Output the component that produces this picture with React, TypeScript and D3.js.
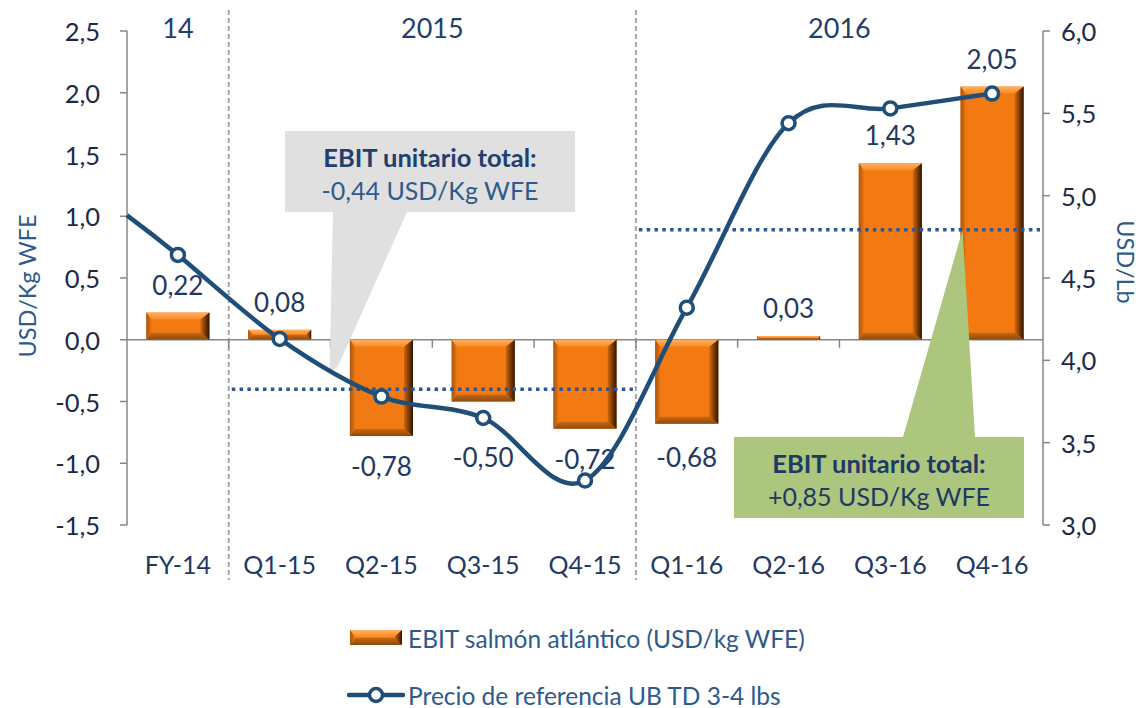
import React from "react";
import * as d3 from "d3";

const categories = ["FY-14", "Q1-15", "Q2-15", "Q3-15", "Q4-15", "Q1-16", "Q2-16", "Q3-16", "Q4-16"];
const ebitValues = [0.22, 0.08, -0.78, -0.5, -0.72, -0.68, 0.03, 1.43, 2.05];
const priceValues = [4.64, 4.13, 3.78, 3.65, 3.27, 4.32, 5.44, 5.53, 5.62];
const priceLeadIn = 4.88; // previous period, line enters from the left axis
const leftTicks = [-1.5, -1.0, -0.5, 0.0, 0.5, 1.0, 1.5, 2.0, 2.5];
const rightTicks = [3.0, 3.5, 4.0, 4.5, 5.0, 5.5, 6.0];
const groupLabels = ["14", "2015", "2016"];
const groupFrom = ["FY-14", "Q1-15", "Q1-16"];
const groupTo = ["FY-14", "Q4-15", "Q4-16"];
const avgLevels = [-0.4, 0.89];
const avgFrom = ["Q1-15", "Q1-16"];
const avgTo = ["Q4-15", "Q4-16"];
const calloutTitle = "EBIT unitario total:";
const calloutValues = ["-0,44 USD/Kg WFE", "+0,85 USD/Kg WFE"];
const legendBar = "EBIT salmón atlántico (USD/kg WFE)";
const legendLine = "Precio de referencia UB TD 3-4 lbs";
const leftTitle = "USD/Kg WFE";
const rightTitle = "USD/Lb";

const W = 1148, H = 708;
const PL = 127, PR = 1043, PT = 31, PB = 525;
const FONT = "Lato, 'Open Sans', sans-serif";
const NAVY = "#1F3864";
const LINE = "#1F4E79";
const MID = "#2E5A8C";
const comma = (f: string) => (v: number) => d3.format(f)(v).replace(".", ",").replace("−", "-");

function bevel(x0: number, x1: number, y0: number, y1: number) {
  const h = y1 - y0;
  const bt = Math.min(7, h / 2), bb = Math.min(7, h / 2);
  const bl = Math.min(5, h / 2), br = Math.min(9, h / 2);
  const p = (pts: number[][]) => pts.map((d) => d.join(",")).join(" ");
  return {
    top: p([[x0, y0], [x1, y0], [x1 - br, y0 + bt], [x0 + bl, y0 + bt]]),
    bottom: p([[x0, y1], [x1, y1], [x1 - br, y1 - bb], [x0 + bl, y1 - bb]]),
    left: p([[x0, y0], [x0 + bl, y0 + bt], [x0 + bl, y1 - bb], [x0, y1]]),
    right: p([[x1, y0], [x1 - br, y0 + bt], [x1 - br, y1 - bb], [x1, y1]]),
  };
}

function BevelBar({ x0, x1, y0, y1 }: { x0: number; x1: number; y0: number; y1: number }) {
  const b = bevel(x0, x1, y0, y1);
  return (
    <g>
      <rect x={x0} y={y0} width={x1 - x0} height={y1 - y0} fill="#F37A12" />
      <polygon points={b.top} fill="url(#gTop)" />
      <polygon points={b.bottom} fill="url(#gBottom)" />
      <polygon points={b.left} fill="url(#gLeft)" />
      <polygon points={b.right} fill="url(#gRight)" />
    </g>
  );
}

export default function App() {
  const x = d3.scaleBand<string>().domain(categories).range([PL, PR]).paddingInner(0.38).paddingOuter(0.19);
  const step = x.step();
  const cx = (c: string) => (x(c) as number) + x.bandwidth() / 2;
  const yL = d3.scaleLinear().domain([-1.5, 2.5]).range([PB, PT]);
  const yR = d3.scaleLinear().domain([3, 6]).range([PB, PT]);
  const y0 = yL(0);
  const fmt2 = comma(".2f");
  const fmt1 = comma(".1f");

  const pts: [number, number][] = [[PL, yR(priceLeadIn)], ...categories.map((c, i) => [cx(c), yR(priceValues[i])] as [number, number])];
  const linePath = d3.line().curve(d3.curveCatmullRom.alpha(0))(pts) as string;

  const boundaries = d3.range(1, categories.length).map((i) => PL + i * step);
  const sepX = [PL + step, PL + 5 * step];

  // callouts
  const gBox = { x: 285, y: 131, w: 290, h: 81 };
  const gTip: [number, number] = [PL + 2 * step - 1, yL(-0.27)];
  const grBox = { x: 734, y: 437, w: 290, h: 81 };
  const grTip: [number, number] = [(x("Q4-16") as number) + 2, yL(avgLevels[1])];

  return (
    <svg width={W} height={H} style={{ position: "absolute", left: 0, top: 0, background: "#fff" }} fontFamily={FONT}>
      <defs>
        <linearGradient id="gTop" x1="0" y1="0" x2="0" y2="1">
          <stop offset="0" stopColor="#FFB060" />
          <stop offset="1" stopColor="#F98A25" />
        </linearGradient>
        <linearGradient id="gBottom" x1="0" y1="0" x2="0" y2="1">
          <stop offset="0" stopColor="#C8680E" />
          <stop offset="1" stopColor="#8C4A10" />
        </linearGradient>
        <linearGradient id="gLeft" x1="0" y1="0" x2="1" y2="0">
          <stop offset="0" stopColor="#A8560E" />
          <stop offset="1" stopColor="#E67410" />
        </linearGradient>
        <linearGradient id="gRight" x1="0" y1="0" x2="1" y2="0">
          <stop offset="0" stopColor="#D4680C" />
          <stop offset="1" stopColor="#2E1400" />
        </linearGradient>
      </defs>

      {/* year separators */}
      {sepX.map((sx, i) => (
        <line key={i} x1={sx} x2={sx} y1={10} y2={580} stroke="#A6A6A6" strokeWidth={2} strokeDasharray="5 3" />
      ))}

      {/* group labels */}
      {groupLabels.map((g, i) => (
        <text key={g} x={(cx(groupFrom[i]) + cx(groupTo[i])) / 2} y={27} textAnchor="middle" dominantBaseline="central" fontSize={27} fill="#1F3F6E">
          {g}
        </text>
      ))}

      {/* left axis */}
      <line x1={PL} x2={PL} y1={PT} y2={PB} stroke="#868686" strokeWidth={1.5} />
      {leftTicks.map((t) => (
        <g key={t}>
          <line x1={PL - 7} x2={PL} y1={yL(t)} y2={yL(t)} stroke="#868686" strokeWidth={1.5} />
          <text x={100} y={yL(t)} textAnchor="end" dominantBaseline="central" fontSize={25.5} fill="#1B2A47">
            {fmt1(t)}
          </text>
        </g>
      ))}
      {/* right axis */}
      <line x1={PR} x2={PR} y1={PT} y2={PB} stroke="#868686" strokeWidth={1.5} />
      {rightTicks.map((t) => (
        <g key={t}>
          <line x1={PR} x2={PR + 7} y1={yR(t)} y2={yR(t)} stroke="#868686" strokeWidth={1.5} />
          <text x={1061} y={yR(t)} textAnchor="start" dominantBaseline="central" fontSize={25.5} fill="#1B2A47">
            {fmt1(t)}
          </text>
        </g>
      ))}
      {/* zero line and category ticks */}
      <line x1={PL} x2={PR} y1={y0} y2={y0} stroke="#868686" strokeWidth={1.5} />
      {boundaries.map((bx, i) => (
        <line key={i} x1={bx} x2={bx} y1={y0} y2={y0 + 8} stroke="#868686" strokeWidth={1.5} />
      ))}

      {/* axis titles */}
      <text transform={`translate(27,${(PT + PB) / 2 + 8}) rotate(-90)`} textAnchor="middle" dominantBaseline="central" fontSize={23.5} fill={MID}>
        {leftTitle}
      </text>
      <text transform={`translate(1126,${(PT + PB) / 2 - 16}) rotate(90)`} textAnchor="middle" dominantBaseline="central" fontSize={23.5} fill={MID}>
        {rightTitle}
      </text>

      {/* category labels */}
      {categories.map((c) => (
        <text key={c} x={cx(c)} y={564} textAnchor="middle" dominantBaseline="central" fontSize={25} fill={NAVY}>
          {c}
        </text>
      ))}

      {/* bars */}
      {categories.map((c, i) => {
        const v = ebitValues[i];
        const xa = x(c) as number;
        return <BevelBar key={c} x0={xa} x1={xa + x.bandwidth()} y0={Math.min(yL(v), y0)} y1={Math.max(yL(v), y0)} />;
      })}

      {/* callouts */}
      <polygon points={`${gBox.x + 48},${gBox.y + gBox.h} ${gBox.x + 122},${gBox.y + gBox.h} ${gTip[0] + 8},${gTip[1] - 6} ${gTip[0]},${gTip[1]}`} fill="#E0E0E0" />
      <rect x={gBox.x} y={gBox.y} width={gBox.w} height={gBox.h} fill="#E0E0E0" />
      <text x={gBox.x + gBox.w / 2} y={gBox.y + 26} textAnchor="middle" dominantBaseline="central" fontSize={25.5} fontWeight={700} fill="#1F3F6E">
        {calloutTitle}
      </text>
      <text x={gBox.x + gBox.w / 2} y={gBox.y + 59} textAnchor="middle" dominantBaseline="central" fontSize={25} fill={MID}>
        {calloutValues[0]}
      </text>

      <polygon points={`${grBox.x + 169},${grBox.y} ${grBox.x + 241},${grBox.y} ${grTip[0]},${grTip[1]}`} fill="#ACC67E" />
      <rect x={grBox.x} y={grBox.y} width={grBox.w} height={grBox.h} fill="#ACC67E" />
      <text x={grBox.x + grBox.w / 2} y={grBox.y + 26} textAnchor="middle" dominantBaseline="central" fontSize={25.5} fontWeight={700} fill={NAVY}>
        {calloutTitle}
      </text>
      <text x={grBox.x + grBox.w / 2} y={grBox.y + 59} textAnchor="middle" dominantBaseline="central" fontSize={25} fill={NAVY}>
        {calloutValues[1]}
      </text>

      {/* average dotted lines */}
      {avgLevels.map((v, i) => (
        <line key={i} x1={(x(avgFrom[i]) as number) - step * 0.19 + 3} x2={(x(avgTo[i]) as number) + x.bandwidth() + step * 0.19 - 3} y1={yL(v)} y2={yL(v)} stroke="#2F5597" strokeWidth={3.5} strokeDasharray="3.5 4.3" />
      ))}

      {/* data labels */}
      {categories.map((c, i) => {
        const v = ebitValues[i];
        const ly = v >= 0 ? yL(v) - 28 : Math.max(yL(v) + 30, yL(-0.95));
        return (
          <text key={c} x={cx(c)} y={ly} textAnchor="middle" dominantBaseline="central" fontSize={26} fill={NAVY}>
            {fmt2(v)}
          </text>
        );
      })}

      {/* price line */}
      <path d={linePath} fill="none" stroke={LINE} strokeWidth={4.5} strokeLinejoin="round" />
      {categories.map((c, i) => (
        <circle key={c} cx={cx(c)} cy={yR(priceValues[i])} r={6.5} fill="#fff" stroke={LINE} strokeWidth={3.5} />
      ))}

      {/* legend */}
      <BevelBar x0={350} x1={402} y0={630} y1={645} />
      <text x={408} y={638} dominantBaseline="central" fontSize={24.5} fill={MID}>
        {legendBar}
      </text>
      <line x1={349} x2={403} y1={695} y2={695} stroke={LINE} strokeWidth={4.5} strokeLinecap="round" />
      <circle cx={376} cy={695} r={6.5} fill="#fff" stroke={LINE} strokeWidth={3.5} />
      <text x={408} y={695} dominantBaseline="central" fontSize={24.5} fill={MID}>
        {legendLine}
      </text>
    </svg>
  );
}
